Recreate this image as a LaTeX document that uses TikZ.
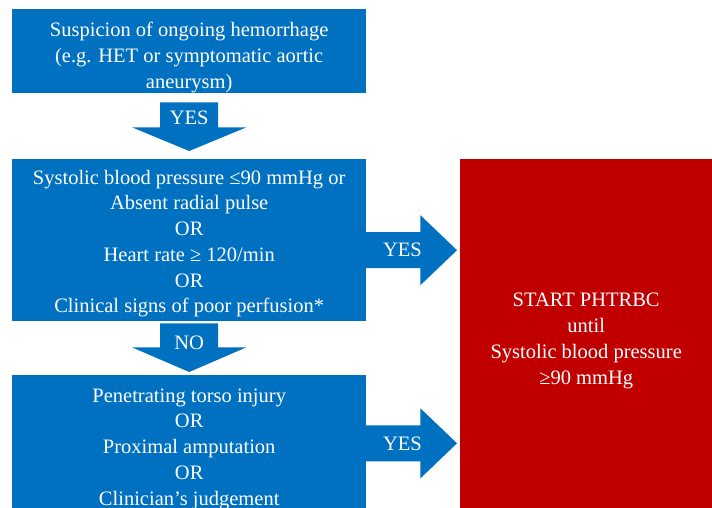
\documentclass[tikz,border=0pt]{standalone}
\usepackage{fontspec}
\setmainfont{Liberation Serif}
\usepackage{tikz}
\usetikzlibrary{calc}
\definecolor{boxblue}{HTML}{0070C0}
\definecolor{boxred}{HTML}{C00000}

\begin{document}
\begin{tikzpicture}[x=1pt,y=-1pt]
\tikzstyle{every node}+=[inner sep=0pt]
\tikzstyle{flowbox}=[fill=boxblue, text=white, align=center, anchor=north west,
  font=\fontsize{20.5}{25.7}\selectfont]
\tikzstyle{arrowlabel}=[text=white, font=\fontsize{20.5}{25.7}\selectfont]
\useasboundingbox (0,0) rectangle (712,508);
% boxes
\node [flowbox, minimum width=354pt, minimum height=84pt] (susp) at (12,9)
  {\rule{0pt}{27pt}Suspicion of ongoing hemorrhage\\(e.g. HET or symptomatic aortic\\aneurysm)};
\node [flowbox, minimum width=354pt, minimum height=162pt] (crit) at (12,159)
  {\rule{0pt}{21pt}Systolic blood pressure ≤90 mmHg or\\Absent radial pulse\\OR\\Heart rate ≥ 120/min\\OR\\Clinical signs of poor perfusion*};
\node [flowbox, minimum width=354pt, minimum height=133pt] (trig) at (12,375)
  {\rule{0pt}{27pt}Penetrating torso injury\\OR\\Proximal amputation\\OR\\Clinician’s judgement};
\node [flowbox, fill=boxred, minimum width=252pt, minimum height=349pt] (start) at (460,159)
  {\rule{0pt}{28pt}START PHTRBC\\until\\Systolic blood pressure\\≥90 mmHg};
% down arrows
\fill [boxblue] ($(susp.south)+(-29,9)$) -- ($(susp.south)+(29,9)$) -- ($(susp.south)+(29,34)$)
  -- ($(susp.south)+(57,34)$) -- ($(crit.north)+(0,-8)$) -- ($(susp.south)+(-57,34)$)
  -- ($(susp.south)+(-29,34)$) -- cycle;
\node [arrowlabel] (yes1) at ($(susp.south)+(0,24)$) {YES};
\fill [boxblue] ($(crit.south)+(-29,2)$) -- ($(crit.south)+(29,2)$) -- ($(crit.south)+(29,26)$)
  -- ($(crit.south)+(57,26)$) -- ($(trig.north)+(0,-3)$) -- ($(crit.south)+(-57,26)$)
  -- ($(crit.south)+(-29,26)$) -- cycle;
\node [arrowlabel] (no) at ($(crit.south)+(0,21)$) {NO};
% right arrows
\coordinate (a1) at ($(crit.east)+(0,10)$);
\fill [boxblue] ($(a1)+(-1,-18)$) -- ($(a1)+(54,-18)$) -- ($(a1)+(54,-35)$)
  -- ($(a1 -| start.west)+(-3,0)$) -- ($(a1)+(54,35)$) -- ($(a1)+(54,18)$)
  -- ($(a1)+(-1,18)$) -- cycle;
\node [arrowlabel] (yes2) at ($(a1)+(36,0)$) {YES};
\coordinate (a2) at ($(trig.east)+(0,1)$);
\fill [boxblue] ($(a2)+(-1,-18)$) -- ($(a2)+(54,-18)$) -- ($(a2)+(54,-35)$)
  -- ($(a2 -| start.west)+(-3,0)$) -- ($(a2)+(54,35)$) -- ($(a2)+(54,18)$)
  -- ($(a2)+(-1,18)$) -- cycle;
\node [arrowlabel] (yes3) at ($(a2)+(36,0)$) {YES};
\end{tikzpicture}
\end{document}
